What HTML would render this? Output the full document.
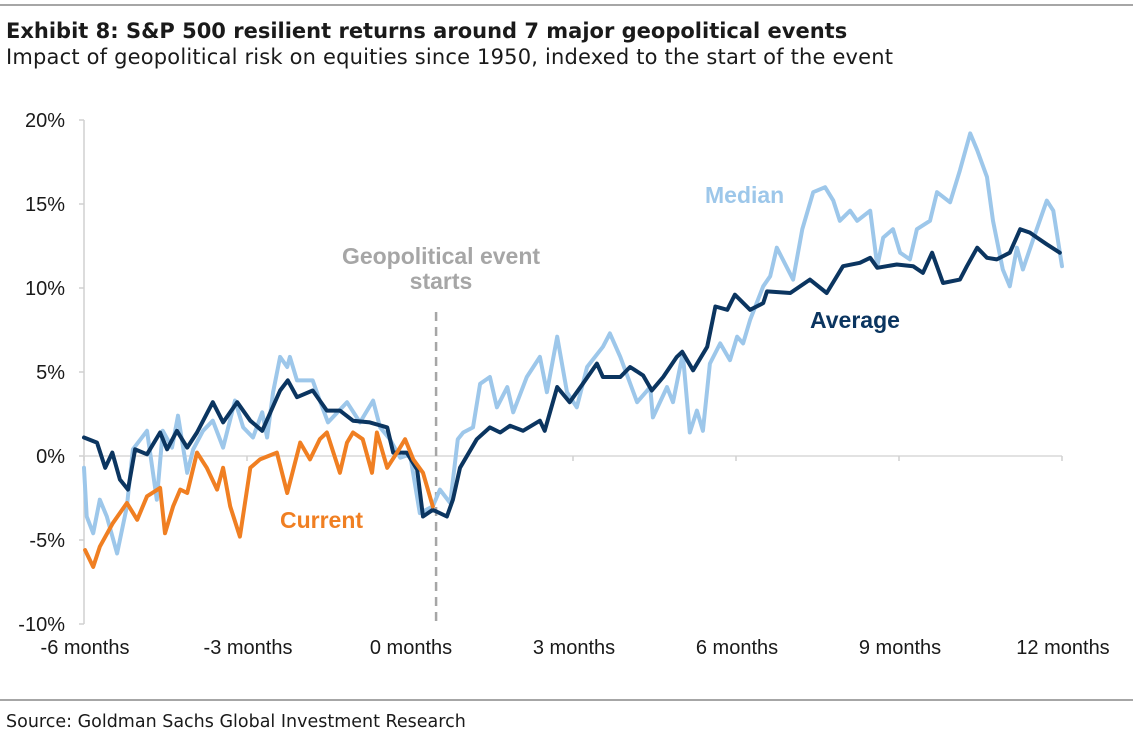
<!DOCTYPE html>
<html><head><meta charset="utf-8"><style>
body{margin:0;background:#fff;width:1133px;height:738px;overflow:hidden;font-family:"Liberation Sans",sans-serif}
</style></head><body>
<svg width="1133" height="738" viewBox="0 0 1133 738">
<line x1="0" y1="5" x2="1133" y2="5" stroke="#888" stroke-width="1.5"/>
<text x="6" y="38" font-family="DejaVu Sans,sans-serif" font-weight="bold" font-size="21" fill="#1a1a1a">Exhibit 8: S&amp;P 500 resilient returns around 7 major geopolitical events</text>
<text x="6" y="64" font-family="DejaVu Sans,sans-serif" font-size="21" fill="#1a1a1a" textLength="887">Impact of geopolitical risk on equities since 1950, indexed to the start of the event</text>
<g id="axes"></g>
<g id="marks"></g>
<text x="705" y="203" font-size="23" font-weight="bold" fill="#9dc7ea">Median</text>
<text x="441" y="264" text-anchor="middle" font-size="23" font-weight="bold" fill="#a6a6a6">Geopolitical event</text>
<text x="441" y="289" text-anchor="middle" font-size="23" font-weight="bold" fill="#a6a6a6">starts</text>
<text x="810" y="328" font-size="23" font-weight="bold" fill="#0b3560">Average</text>
<text x="280" y="528" font-size="23" font-weight="bold" fill="#f07f22">Current</text>
<line x1="0" y1="700" x2="1133" y2="700" stroke="#888" stroke-width="1.5"/>
<text x="6" y="727" font-family="DejaVu Sans,sans-serif" font-size="17.5" fill="#1a1a1a">Source: Goldman Sachs Global Investment Research</text>
</svg>
<script>
const yTicks=[20,15,10,5,0,-5,-10];
const xTicks=[-6,-3,0,3,6,9,12];
const xTickLabels=["-6 months","-3 months","0 months","3 months","6 months","9 months","12 months"];
const eventMonth=0.48;
const avgX=[-6,-5.76,-5.61,-5.48,-5.34,-5.19,-5.06,-4.84,-4.6,-4.47,-4.29,-4.1,-3.92,-3.63,-3.44,-3.18,-2.94,-2.72,-2.39,-2.25,-2.08,-1.79,-1.53,-1.29,-1.05,-0.74,-0.42,-0.31,-0.06,0.13,0.24,0.42,0.68,0.79,0.92,1.23,1.47,1.66,1.84,2.08,2.39,2.48,2.71,2.94,3.18,3.44,3.55,3.87,4.05,4.29,4.45,4.66,4.91,5.01,5.21,5.47,5.62,5.84,5.98,6.26,6.5,6.57,7.0,7.36,7.67,7.97,8.28,8.47,8.6,8.96,9.26,9.44,9.61,9.81,10.12,10.25,10.44,10.62,10.8,11.04,11.23,11.41,11.54,11.72,11.96];
const avgY=[1.1,0.8,-0.7,0.2,-1.4,-2.0,0.4,0.1,1.4,0.4,1.5,0.5,1.4,3.2,2.0,3.2,2.1,1.5,3.9,4.5,3.5,3.9,2.7,2.7,2.1,2.0,1.7,0.2,0.2,-0.8,-3.6,-3.2,-3.6,-2.6,-0.7,1.0,1.7,1.4,1.8,1.5,2.1,1.5,4.1,3.2,4.3,5.5,4.7,4.7,5.3,4.8,3.9,4.7,5.9,6.2,5.1,6.5,8.9,8.7,9.6,8.7,9.1,9.8,9.7,10.5,9.7,11.3,11.5,11.8,11.2,11.4,11.3,10.9,12.1,10.3,10.5,11.3,12.4,11.8,11.7,12.1,13.5,13.3,13.0,12.6,12.1];
const medX=[-6,-5.95,-5.83,-5.71,-5.58,-5.39,-5.21,-5.1,-4.84,-4.66,-4.55,-4.38,-4.27,-4.1,-3.99,-3.81,-3.63,-3.44,-3.22,-3.07,-2.89,-2.72,-2.63,-2.52,-2.39,-2.26,-2.21,-2.08,-1.79,-1.66,-1.51,-1.16,-0.92,-0.68,-0.55,-0.37,-0.18,0,0.18,0.42,0.55,0.74,0.88,0.98,1.16,1.29,1.47,1.6,1.79,1.9,2.15,2.39,2.52,2.71,2.89,3.07,3.26,3.55,3.68,3.87,4.18,4.42,4.47,4.73,4.84,5.02,5.15,5.28,5.39,5.52,5.71,5.89,6.02,6.13,6.26,6.5,6.63,6.75,7.05,7.22,7.42,7.64,7.79,7.91,8.1,8.23,8.47,8.6,8.71,8.89,9.02,9.2,9.33,9.57,9.7,9.94,10.12,10.31,10.44,10.62,10.73,10.91,11.04,11.17,11.28,11.47,11.72,11.84,12.0];
const medY=[-0.7,-3.6,-4.6,-2.6,-3.6,-5.8,-3.0,0.4,1.5,-2.6,1.5,0.5,2.4,-1.0,0.4,1.5,2.1,0.5,3.3,1.7,1.1,2.6,1.1,3.8,5.9,5.3,5.9,4.5,4.5,3.3,2.0,3.2,2.0,3.3,1.7,1.0,-0.1,0.1,-3.4,-3.0,-2.0,-2.8,1.0,1.4,1.7,4.3,4.7,2.9,4.1,2.6,4.7,5.9,3.8,7.1,3.8,2.9,5.3,6.5,7.3,5.9,3.2,4.1,2.3,4.1,3.2,6.1,1.4,2.7,1.5,5.5,6.7,5.7,7.1,6.7,8.1,10.1,10.7,12.4,10.5,13.5,15.7,16.0,15.2,14.0,14.6,14.0,14.6,11.3,13.0,13.5,12.1,11.7,13.5,14.0,15.7,15.1,17.0,19.2,18.2,16.6,14.0,11.1,10.1,12.4,11.1,12.9,15.2,14.6,11.3];
const curX=[-5.98,-5.83,-5.71,-5.47,-5.21,-5.02,-4.84,-4.6,-4.51,-4.36,-4.23,-4.1,-3.92,-3.74,-3.55,-3.44,-3.31,-3.13,-2.94,-2.76,-2.45,-2.26,-2.02,-1.84,-1.66,-1.53,-1.29,-1.16,-1.05,-0.87,-0.7,-0.61,-0.42,-0.24,-0.09,0.06,0.24,0.42];
const curY=[-5.6,-6.6,-5.4,-4.0,-2.8,-3.8,-2.4,-1.9,-4.6,-3.0,-2.0,-2.2,0.2,-0.7,-2.0,-0.7,-3.0,-4.8,-0.7,-0.2,0.2,-2.2,0.8,-0.2,1.0,1.4,-1.0,0.8,1.4,1.0,-1.0,1.4,-0.7,0.2,1.0,-0.2,-1.0,-3.0];

const NS="http://www.w3.org/2000/svg";
const X0=84,X1=1062,Y0=624,Y1=120,VMIN=-10,VMAX=20,MMIN=-6,MMAX=12;
function xs(m){return X0+(m-MMIN)/(MMAX-MMIN)*(X1-X0);}
function ys(v){return Y0-(v-VMIN)/(VMAX-VMIN)*(Y0-Y1);}
function mk(tag,attrs,parent){const e=document.createElementNS(NS,tag);for(const k in attrs)e.setAttribute(k,attrs[k]);parent.appendChild(e);return e;}
const axes=document.getElementById('axes'),marks=document.getElementById('marks');
const ya=mk('line',{x1:X0,y1:Y1,x2:X0,y2:Y0,stroke:'#d0d0d0','stroke-width':1.5},axes);


yTicks.forEach(v=>{
  const t=mk('line',{x1:X0-5,y1:ys(v),x2:X0,y2:ys(v),stroke:'#d0d0d0','stroke-width':1.5},axes);
  
  
  const l=mk('text',{x:65,y:ys(v)+7,'text-anchor':'end','font-size':20,fill:'#1a1a1a'},axes);
  l.textContent=v+'%';
  
  
});
const base=mk('line',{x1:X0,y1:ys(0),x2:X1,y2:ys(0),stroke:'#d9d9d9','stroke-width':1.5},axes);


xTicks.forEach((m,i)=>{
  const t=mk('line',{x1:xs(m),y1:ys(0),x2:xs(m),y2:ys(0)+5,stroke:'#d0d0d0','stroke-width':1.5},axes);
  
  
  const l=mk('text',{x:xs(m)+1,y:654,'text-anchor':'middle','font-size':20,fill:'#1a1a1a'},axes);
  l.textContent=xTickLabels[i];
  
  
});
const ev=mk('line',{x1:xs(eventMonth),y1:312,x2:xs(eventMonth),y2:Y0,stroke:'#a6a6a6','stroke-width':2.5,'stroke-dasharray':'9,6'},marks);


function line(xArr,yArr,color,name){
  const d=xArr.map((m,i)=>(i?'L':'M')+xs(m).toFixed(1)+','+ys(yArr[i]).toFixed(1)).join(' ');
  const p=mk('path',{d:d,fill:'none',stroke:color,'stroke-width':4,'stroke-linejoin':'round','stroke-linecap':'round'},marks);
  
  
}
line(medX,medY,'#9dc7ea','median-line');
line(avgX,avgY,'#0b3560','average-line');
line(curX,curY,'#f07f22','current-line');
</script>
</body></html>
